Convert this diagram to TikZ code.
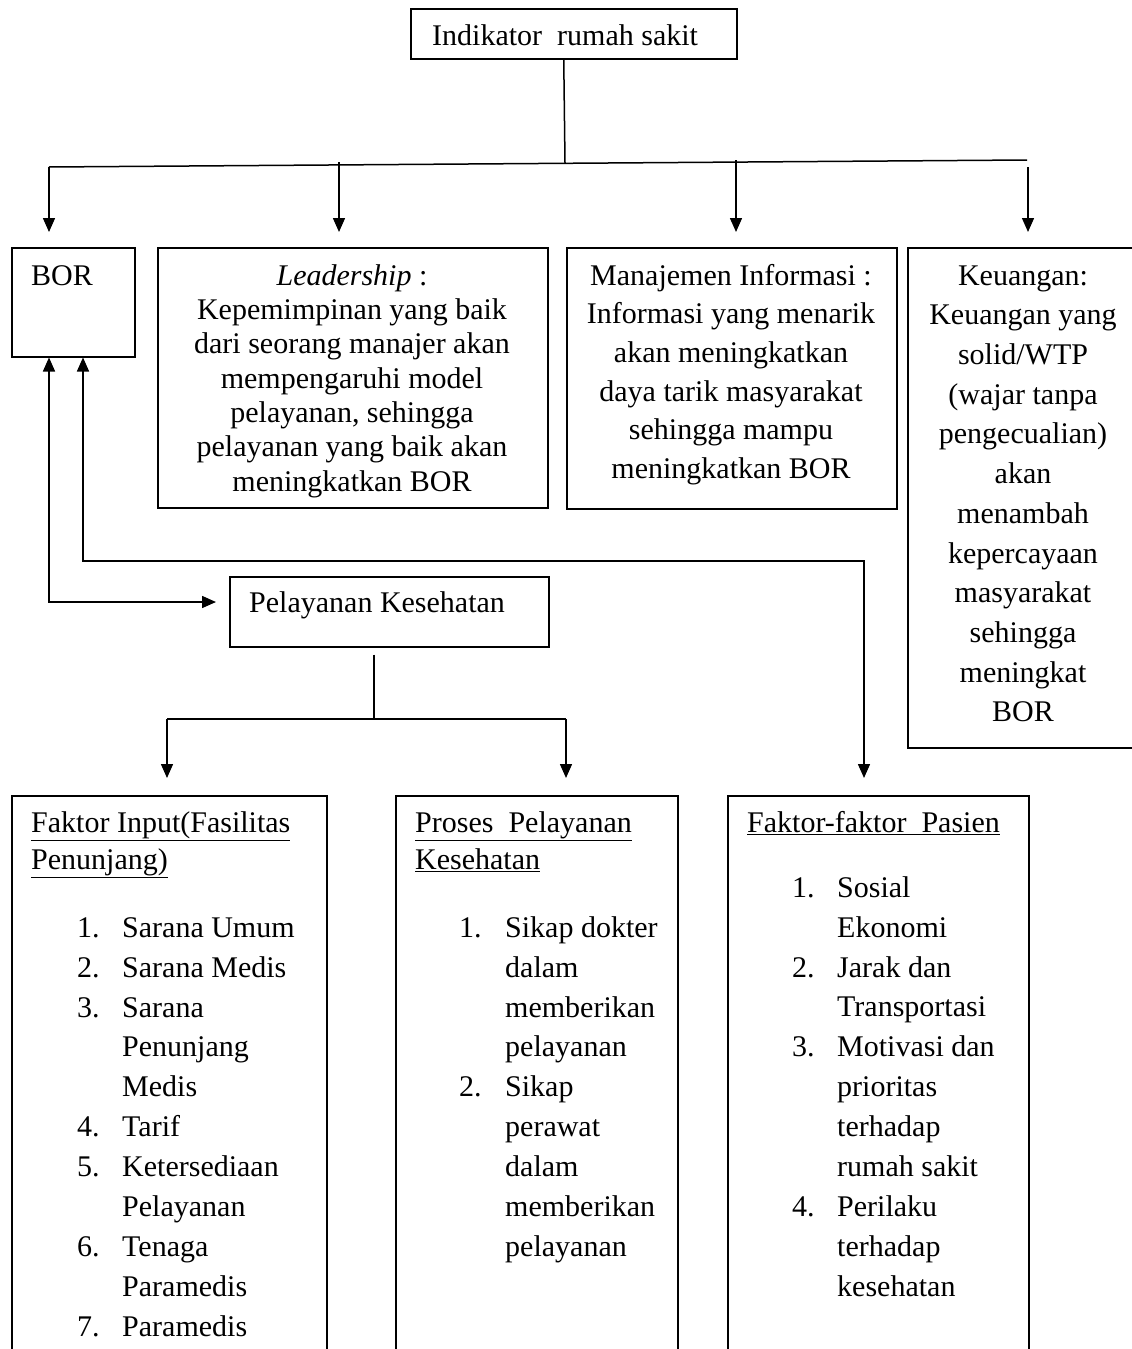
\documentclass[tikz,border=0pt]{standalone}
\usepackage{fontspec}
\setmainfont{Liberation Serif}
\usetikzlibrary{arrows.meta}
\tikzset{
	box/.style={draw, line width=1.5pt, inner sep=0pt, anchor=north west},
	txt/.style={inner sep=0pt, font=\fontsize{30}{#1}\selectfont},
	line/.style={line width=1.5pt},
	arr/.style={line width=1.5pt, -{Triangle[length=14pt,width=12pt]}},
	darr/.style={line width=1.5pt, {Triangle[length=14pt,width=12pt]}-{Triangle[length=14pt,width=12pt]}}
}
\begin{document}
\begin{tikzpicture}[x=1pt,y=-1pt]
			\useasboundingbox (0,0) rectangle (1132,1349);
			\clip (0,0) rectangle (1132,1349);
			\node[box, minimum width=326pt, minimum height=50pt] (ind) at (410,8) {};
			\node[txt=36, anchor=base west] (indt) at (432,45) {Indikator\ \ rumah sakit};
			\node[box, minimum width=123pt, minimum height=109pt] (bor) at (11,247) {};
			\node[txt=36, anchor=base west] (bort) at (31,285) {BOR};
			\node[box, minimum width=390pt, minimum height=260pt] (lead) at (157,247) {};
			\node[txt=34.3, anchor=north] (leadt) at (352,261) {\begin{tabular}{@{}c@{}}
				\textit{Leadership} :\\
				Kepemimpinan yang baik\\
				dari seorang manajer akan\\
				mempengaruhi model\\
				pelayanan, sehingga\\
				pelayanan yang baik akan\\
				meningkatkan BOR
			\end{tabular}};
			\node[box, minimum width=330pt, minimum height=261pt] (info) at (566,247) {};
			\node[txt=38.7, anchor=north] (infot) at (731,257.9) {\begin{tabular}{@{}c@{}}
				Manajemen Informasi :\\
				Informasi yang menarik\\
				akan meningkatkan\\
				daya tarik masyarakat\\
				sehingga mampu\\
				meningkatkan BOR
			\end{tabular}};
			\node[box, minimum width=232pt, minimum height=500pt] (keu) at (907,247) {};
			\node[txt=39.7, anchor=north] (keut) at (1023,257.2) {\begin{tabular}{@{}c@{}}
				Keuangan:\\
				Keuangan yang\\
				solid/WTP\\
				(wajar tanpa\\
				pengecualian)\\
				akan\\
				menambah\\
				kepercayaan\\
				masyarakat\\
				sehingga\\
				meningkat\\
				BOR
			\end{tabular}};
			\node[box, minimum width=319pt, minimum height=70pt] (pel) at (229,576) {};
			\node[txt=36, anchor=base west] (pelt) at (249,612) {Pelayanan Kesehatan};
			\node[box, minimum width=315pt, minimum height=600pt] (fin) at (11,795) {};
			\node[txt=37, anchor=north west] (fint) at (31,806.1) {\begin{tabular}{@{}l@{}}
				\underline{Faktor Input(Fasilitas}\\
				\underline{Penunjang)}
			\end{tabular}};
			\node[txt=39.9, anchor=north west] (finl) at (77,909.07) {\begin{tabular}{@{}p{45pt}@{}l@{}}
				1. & Sarana Umum\\
				2. & Sarana Medis\\
				3. & Sarana\\
				& Penunjang\\
				& Medis\\
				4. & Tarif\\
				5. & Ketersediaan\\
				& Pelayanan\\
				6. & Tenaga\\
				& Paramedis\\
				7. & Paramedis
			\end{tabular}};
			\node[box, minimum width=282pt, minimum height=600pt] (pros) at (395,795) {};
			\node[txt=37, anchor=north west] (prost) at (415,806.1) {\begin{tabular}{@{}l@{}}
				\underline{Proses\ \ Pelayanan}\\
				\underline{Kesehatan}
			\end{tabular}};
			\node[txt=39.9, anchor=north west] (prosl) at (459,909.07) {\begin{tabular}{@{}p{46pt}@{}l@{}}
				1. & Sikap dokter\\
				& dalam\\
				& memberikan\\
				& pelayanan\\
				2. & Sikap\\
				& perawat\\
				& dalam\\
				& memberikan\\
				& pelayanan
			\end{tabular}};
			\node[box, minimum width=301pt, minimum height=600pt] (pas) at (727,795) {};
			\node[txt=37, anchor=base west] (past) at (747,832) {\underline{Faktor-faktor\ \ Pasien}};
			\node[txt=39.9, anchor=north west] (pasl) at (792,869.07) {\begin{tabular}{@{}p{45pt}@{}l@{}}
				1. & Sosial\\
				& Ekonomi\\
				2. & Jarak dan\\
				& Transportasi\\
				3. & Motivasi dan\\
				& prioritas\\
				& terhadap\\
				& rumah sakit\\
				4. & Perilaku\\
				& terhadap\\
				& kesehatan
			\end{tabular}};
			\coordinate (trk) at (565,163);
			\coordinate (hl) at (49,167);
			\coordinate (hr) at (1027,160);
			\coordinate (a2) at (339,162);
			\coordinate (a3) at (736,160);
			\coordinate (a4) at (1028,167);
			\draw[line] ([xshift=-10pt]ind.south) -- (trk);
			\draw[line] (hl) -- (hr);
			\draw[arr, shorten >=15pt] (hl) -- (hl |- bor.north);
			\draw[arr, shorten >=15pt] (a2) -- (a2 |- lead.north);
			\draw[arr, shorten >=15pt] (a3) -- (a3 |- info.north);
			\draw[arr, shorten >=15pt] (a4) -- (a4 |- keu.north);
			\coordinate (pa) at (49,602);
			\coordinate (pb) at (83,561);
			\coordinate (pc) at (864,561);
			\draw[darr, shorten >=13pt] (pa |- bor.south) -- (pa) -- (pa -| pel.west);
			\draw[darr, shorten >=17pt] (pb |- bor.south) -- (pb) -- (pc) -- (pc |- pas.north);
			\coordinate (ps) at (374,719);
			\coordinate (pl) at (167,719);
			\coordinate (pr) at (566,719);
			\draw[line, shorten <=7pt] (ps |- pel.south) -- (ps);
			\draw[line] (pl) -- (pr);
			\draw[arr, shorten >=17pt] (pl) -- (pl |- fin.north);
			\draw[arr, shorten >=17pt] (pr) -- (pr |- pros.north);
		\end{tikzpicture}
\end{document}
